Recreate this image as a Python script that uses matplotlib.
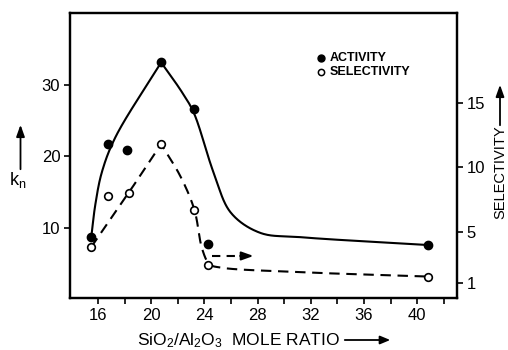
import numpy as np
import matplotlib
matplotlib.use("Agg")
import matplotlib.pyplot as plt

plt.rcParams['font.family'] = ['Liberation Sans', 'DejaVu Sans']
plt.rcParams['mathtext.fontset'] = 'custom'
plt.rcParams['mathtext.rm'] = 'Liberation Sans'
plt.rcParams['mathtext.it'] = 'Liberation Sans'

# ---- data ----
act_x = [15.5, 16.75, 18.2, 20.75, 23.25, 24.3, 40.8]
act_y = [8.7, 21.7, 20.8, 33.1, 26.6, 7.8, 7.6]
sel_x = [15.5, 16.75, 18.3, 20.75, 23.25, 24.3, 40.8]
sel_y = [3.8, 7.8, 8.0, 11.8, 6.7, 2.4, 1.5]

# hand-drawn trend curves
act_rise_x = [15.5, 15.8, 16.3, 17.3, 20.75]
act_rise_y = [8.7, 13.2, 17.8, 22.6, 33.1]
act_fall_x = [20.75, 22.3, 23.2, 24.7, 26.0, 28.2, 31.2, 40.8]
act_fall_y = [33.1, 29.0, 26.1, 17.7, 12.1, 9.3, 8.7, 7.6]
sel_rise_x = [15.5, 18.3, 20.75]
sel_rise_y = [3.8, 8.0, 11.8]
sel_fall_x = [20.75, 22.2, 23.25, 23.85, 24.4, 25.2, 31.0, 40.8]
sel_fall_y = [11.8, 9.3, 6.7, 3.6, 2.45, 2.2, 1.85, 1.5]

x_ticks = [16, 20, 24, 28, 32, 36, 40]
left_ticks = [10, 20, 30]
right_ticks = [1, 5, 10, 15]


def smooth(xs, ys, ax, n=40):
    """Centripetal Catmull-Rom through points, computed in display space."""
    pts = ax.transData.transform(np.column_stack([xs, ys]))
    P = np.vstack([2 * pts[0] - pts[1], pts, 2 * pts[-1] - pts[-2]])
    out = []
    for i in range(1, len(P) - 2):
        p0, p1, p2, p3 = P[i - 1], P[i], P[i + 1], P[i + 2]
        t0 = 0.0
        t1 = t0 + np.linalg.norm(p1 - p0) ** 0.5
        t2 = t1 + np.linalg.norm(p2 - p1) ** 0.5
        t3 = t2 + np.linalg.norm(p3 - p2) ** 0.5
        t = np.linspace(t1, t2, n)[:, None]
        A1 = (t1 - t) / (t1 - t0) * p0 + (t - t0) / (t1 - t0) * p1
        A2 = (t2 - t) / (t2 - t1) * p1 + (t - t1) / (t2 - t1) * p2
        A3 = (t3 - t) / (t3 - t2) * p2 + (t - t2) / (t3 - t2) * p3
        B1 = (t2 - t) / (t2 - t0) * A1 + (t - t0) / (t2 - t0) * A2
        B2 = (t3 - t) / (t3 - t1) * A2 + (t - t1) / (t3 - t1) * A3
        C = (t2 - t) / (t2 - t1) * B1 + (t - t1) / (t2 - t1) * B2
        out.append(C)
    out = np.vstack(out)
    d = ax.transData.inverted().transform(out)
    return d[:, 0], d[:, 1]


fig = plt.figure(figsize=(5.08, 3.5), dpi=100)
ax = fig.add_axes([70 / 508, 52 / 350, 387 / 508, 285 / 350])
ax2 = ax.twinx()

ax.set_xlim(13.9, 43.0)
ax.set_ylim(0.2, 40.0)
ax2.set_ylim(-0.17, 22.0)

for a in (ax, ax2):
    for s in a.spines.values():
        s.set_linewidth(1.6)
        s.set_color('black')

ax.set_xticks(x_ticks)
ax.set_xticks(np.arange(18, 43, 4), minor=True)
ax.set_yticks(left_ticks)
ax2.set_yticks(right_ticks)
ax.tick_params(axis='both', which='both', direction='out', length=4, width=1.2,
               labelsize=12, pad=3)
ax2.tick_params(axis='y', direction='out', length=4, width=1.2, labelsize=12, pad=3)

# curves
lw = 1.5
x1, y1 = smooth(act_rise_x, act_rise_y, ax)
x2, y2 = smooth(act_fall_x, act_fall_y, ax)
ax.plot(x1, y1, color='black', lw=lw, solid_capstyle='round')
ax.plot(x2, y2, color='black', lw=lw, solid_capstyle='round')

sx1, sy1 = smooth(sel_rise_x, sel_rise_y, ax2)
sx2, sy2 = smooth(sel_fall_x, sel_fall_y, ax2)
sx = np.concatenate([sx1, sx2])
sy = np.concatenate([sy1, sy2])
ax2.plot(sx, sy, color='black', lw=lw, dashes=(5, 3.2))

# points
ax.plot(act_x, act_y, 'o', color='black', ms=6, zorder=5)
ax2.plot(sel_x, sel_y, 'o', mfc='white', mec='black', mew=1.2, ms=5.5, zorder=5)

# dashed arrow
ax2.plot([24.6, 26.9], [3.1, 3.1], color='black', lw=lw, dashes=(4, 3))
ax2.annotate('', xy=(27.7, 3.1), xytext=(26.7, 3.1),
             arrowprops=dict(arrowstyle='-|>,head_length=0.7,head_width=0.25',
                             color='black', lw=lw, shrinkA=0, shrinkB=0))

# legend
ax.plot([0.649], [0.842], 'o', color='black', ms=5, transform=ax.transAxes, clip_on=False)
ax.plot([0.649], [0.793], 'o', mfc='white', mec='black', mew=1.1, ms=4.5,
        transform=ax.transAxes, clip_on=False)
ax.text(0.672, 0.842, 'ACTIVITY', transform=ax.transAxes, fontsize=9,
        fontweight='bold', va='center', ha='left')
ax.text(0.672, 0.793, 'SELECTIVITY', transform=ax.transAxes, fontsize=9,
        fontweight='bold', va='center', ha='left')

# axis labels
fig.text(137 / 508, 1 - 341 / 350, r'SiO$_2$/Al$_2$O$_3$  MOLE RATIO', fontsize=12.5,
         ha='left', va='center')
fig.add_artist(matplotlib.patches.FancyArrowPatch(
    (342 / 508, 1 - 340 / 350), (393 / 508, 1 - 340 / 350), transform=fig.transFigure,
    arrowstyle='-|>,head_length=6,head_width=2.5', color='black', lw=1.3,
    mutation_scale=1))

fig.text(18 / 508, 1 - 180 / 350, r'k$_\mathregular{n}$', fontsize=13,
         ha='center', va='center')
fig.add_artist(matplotlib.patches.FancyArrowPatch(
    (20.5 / 508, 1 - 172 / 350), (20.5 / 508, 1 - 122 / 350), transform=fig.transFigure,
    arrowstyle='-|>,head_length=7,head_width=2.5', color='black', lw=1.3,
    mutation_scale=1))

fig.text(500 / 508, 1 - 172 / 350, 'SELECTIVITY', fontsize=10.5, rotation=90,
         ha='center', va='center')
fig.add_artist(matplotlib.patches.FancyArrowPatch(
    (500 / 508, 1 - 128 / 350), (500 / 508, 1 - 82 / 350), transform=fig.transFigure,
    arrowstyle='-|>,head_length=7,head_width=2.5', color='black', lw=1.3,
    mutation_scale=1))

fig.savefig('out.png', dpi=100)
